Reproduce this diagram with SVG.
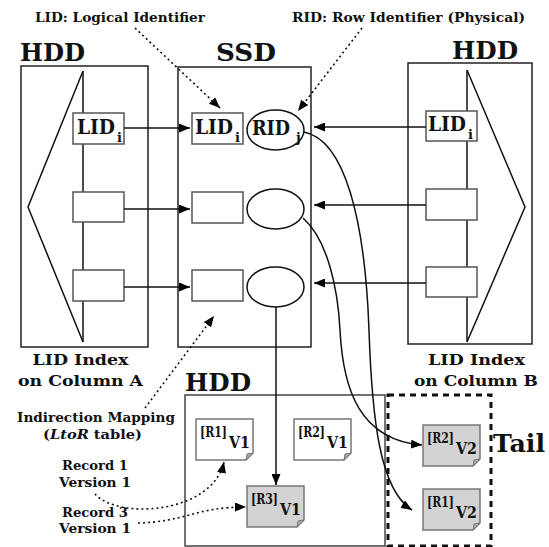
<svg xmlns="http://www.w3.org/2000/svg" width="549" height="547" viewBox="0 0 549 547">
<style>
text{font-family:"DejaVu Serif","Liberation Serif",serif;font-weight:bold;fill:#111}
.title{font-size:24px}
.lbl{font-size:13px}
.mid{font-size:15px}
.big{font-size:20px}
.sub{font-size:13px}
.dr{font-size:14px}
.dv{font-size:17px}
.cont{fill:#fff;stroke:#222;stroke-width:1.5}
.box{fill:#fff;stroke:#555;stroke-width:1.5}
.ln{fill:none;stroke:#111;stroke-width:1.5}
.dot{fill:none;stroke:#111;stroke-width:1.6;stroke-dasharray:2,3}
.doc{stroke:#777;stroke-width:1.5}
.w{fill:#fff}
.g{fill:#d3d3d3}
.fold{fill:#aaa;stroke:#777;stroke-width:1}
</style>
<defs>
<marker id="ah" viewBox="0 0 11 9" refX="11" refY="4.5" markerWidth="11" markerHeight="9" markerUnits="userSpaceOnUse" orient="auto"><path d="M0,0 L11,4.5 L0,9 z" fill="#000"/></marker>
</defs>
<rect width="549" height="547" fill="#fff"/>

<g id="hdd-left">
<text class="title" x="20" y="61" textLength="65" lengthAdjust="spacingAndGlyphs">HDD</text>
<rect class="cont" x="21" y="66" width="127" height="281"/>
<polyline class="ln" points="83,71 28,207 83,342"/>
<line class="ln" x1="83" y1="71" x2="83" y2="342"/>
<rect class="box" x="73" y="113" width="51" height="31"/>
<text class="big" x="77" y="134" textLength="38" lengthAdjust="spacingAndGlyphs">LID</text>
<text class="sub" x="117" y="142">i</text>
<rect class="box" x="73" y="192" width="51" height="30"/>
<rect class="box" x="73" y="270" width="51" height="31"/>
<text class="mid" x="80.5" y="365" text-anchor="middle" textLength="96" lengthAdjust="spacingAndGlyphs">LID Index</text>
<text class="mid" x="80.5" y="386" text-anchor="middle" textLength="125" lengthAdjust="spacingAndGlyphs">on Column A</text>
</g>

<g id="ssd">
<text class="title" x="216" y="61" textLength="60" lengthAdjust="spacingAndGlyphs">SSD</text>
<rect class="cont" x="178" y="67" width="133" height="280"/>
<rect class="box" x="192" y="113" width="51" height="31"/>
<text class="big" x="195" y="134" textLength="38" lengthAdjust="spacingAndGlyphs">LID</text>
<text class="sub" x="235" y="142">i</text>
<ellipse class="ln" cx="275.5" cy="130" rx="28.5" ry="20" fill="#fff"/>
<text class="big" x="252" y="135" textLength="38" lengthAdjust="spacingAndGlyphs">RID</text>
<text class="sub" x="296" y="142">j</text>
<rect class="box" x="192" y="192" width="51" height="31"/>
<ellipse class="ln" cx="275.5" cy="209" rx="28.5" ry="20"/>
<rect class="box" x="192" y="270" width="51" height="31"/>
<ellipse class="ln" cx="275.5" cy="287" rx="28.5" ry="20"/>
</g>

<g id="hdd-right">
<text class="title" x="452" y="59" textLength="66" lengthAdjust="spacingAndGlyphs">HDD</text>
<rect class="cont" x="408" y="63" width="124" height="281"/>
<polyline class="ln" points="467,70 525,207 467,342"/>
<line class="ln" x1="467" y1="70" x2="467" y2="342"/>
<rect class="box" x="426" y="111" width="51" height="30"/>
<text class="big" x="428" y="131" textLength="38" lengthAdjust="spacingAndGlyphs">LID</text>
<text class="sub" x="468" y="139">i</text>
<rect class="box" x="426" y="189" width="51" height="31"/>
<rect class="box" x="426" y="267" width="51" height="30"/>
<text class="mid" x="476.5" y="365" text-anchor="middle" textLength="97" lengthAdjust="spacingAndGlyphs">LID Index</text>
<text class="mid" x="476" y="386" text-anchor="middle" textLength="124" lengthAdjust="spacingAndGlyphs">on Column B</text>
</g>

<g id="hdd-bottom">
<text class="title" x="185" y="391" textLength="66" lengthAdjust="spacingAndGlyphs">HDD</text>
<rect x="185" y="395" width="200" height="151" fill="#fff" stroke="#444" stroke-width="1.5"/>
</g>

<g id="tail">
<rect x="388" y="395" width="103" height="151" fill="none" stroke="#111" stroke-width="3" stroke-dasharray="6,5"/>
<text x="493" y="452" font-size="25" textLength="52" lengthAdjust="spacingAndGlyphs">Tail</text>
</g>

<g id="doc-r1v1" transform="translate(196,419)">
<path class="doc w" d="M0,0 h57 v34 l-7,7 h-50 z"/>
<path class="fold" d="M50,41 L57,34 L51,35 z"/>
<text class="dr" x="4" y="18" textLength="27" lengthAdjust="spacingAndGlyphs">[R1]</text>
<text class="dv" x="33" y="29" textLength="21" lengthAdjust="spacingAndGlyphs">V1</text>
</g>
<g id="doc-r2v1" transform="translate(294,419)">
<path class="doc w" d="M0,0 h57 v34 l-7,7 h-50 z"/>
<path class="fold" d="M50,41 L57,34 L51,35 z"/>
<text class="dr" x="4" y="18" textLength="27" lengthAdjust="spacingAndGlyphs">[R2]</text>
<text class="dv" x="33" y="29" textLength="21" lengthAdjust="spacingAndGlyphs">V1</text>
</g>
<g id="doc-r3v1" transform="translate(247,486)">
<path class="doc g" d="M0,0 h57 v34 l-7,7 h-50 z"/>
<path class="fold" d="M50,41 L57,34 L51,35 z"/>
<text class="dr" x="4" y="18" textLength="27" lengthAdjust="spacingAndGlyphs">[R3]</text>
<text class="dv" x="33" y="29" textLength="21" lengthAdjust="spacingAndGlyphs">V1</text>
</g>
<g id="doc-r2v2" transform="translate(423,425)">
<path class="doc g" d="M0,0 h57 v34 l-7,7 h-50 z"/>
<path class="fold" d="M50,41 L57,34 L51,35 z"/>
<text class="dr" x="4" y="18" textLength="27" lengthAdjust="spacingAndGlyphs">[R2]</text>
<text class="dv" x="33" y="29" textLength="21" lengthAdjust="spacingAndGlyphs">V2</text>
</g>
<g id="doc-r1v2" transform="translate(423,489)">
<path class="doc g" d="M0,0 h57 v34 l-7,7 h-50 z"/>
<path class="fold" d="M50,41 L57,34 L51,35 z"/>
<text class="dr" x="4" y="18" textLength="27" lengthAdjust="spacingAndGlyphs">[R1]</text>
<text class="dv" x="33" y="29" textLength="21" lengthAdjust="spacingAndGlyphs">V2</text>
</g>

<g id="labels">
<text class="lbl" x="35" y="22" textLength="170" lengthAdjust="spacingAndGlyphs">LID: Logical Identifier</text>
<text class="lbl" x="292" y="22" textLength="233" lengthAdjust="spacingAndGlyphs">RID: Row Identifier (Physical)</text>
<text class="lbl" x="96" y="422" text-anchor="middle" textLength="158" lengthAdjust="spacingAndGlyphs">Indirection Mapping</text>
<text class="lbl" x="92.5" y="439" text-anchor="middle" textLength="99" lengthAdjust="spacingAndGlyphs">(<tspan font-style="italic">LtoR</tspan> table)</text>
<text class="lbl" x="95" y="470" text-anchor="middle" textLength="66" lengthAdjust="spacingAndGlyphs">Record 1</text>
<text class="lbl" x="95" y="487" text-anchor="middle" textLength="72" lengthAdjust="spacingAndGlyphs">Version 1</text>
<text class="lbl" x="95" y="517" text-anchor="middle" textLength="66" lengthAdjust="spacingAndGlyphs">Record 3</text>
<text class="lbl" x="95" y="533" text-anchor="middle" textLength="72" lengthAdjust="spacingAndGlyphs">Version 1</text>
</g>

<g id="connectors">
<line class="ln" x1="124" y1="128" x2="190" y2="128" marker-end="url(#ah)"/>
<line class="ln" x1="124" y1="209" x2="190" y2="209" marker-end="url(#ah)"/>
<line class="ln" x1="124" y1="287" x2="190" y2="287" marker-end="url(#ah)"/>
<line class="ln" x1="426" y1="127" x2="314" y2="127" marker-end="url(#ah)"/>
<line class="ln" x1="426" y1="205" x2="314" y2="205" marker-end="url(#ah)"/>
<line class="ln" x1="426" y1="283" x2="314" y2="283" marker-end="url(#ah)"/>
<line class="ln" x1="276" y1="307" x2="276" y2="485" marker-end="url(#ah)"/>
<path class="ln" d="M304,132 C345,140 365,220 369,330 C372,420 380,490 412,510" marker-end="url(#ah)"/>
<path class="ln" d="M303,218 C328,240 338,290 340,330 C343,390 360,440 422,445" marker-end="url(#ah)"/>
<line class="dot" x1="135" y1="28" x2="220" y2="108" marker-end="url(#ah)"/>
<line class="dot" x1="362" y1="28" x2="298" y2="111" marker-end="url(#ah)"/>
<line class="dot" x1="145" y1="408" x2="214" y2="316" marker-end="url(#ah)"/>
<path class="dot" d="M95,494 C118,520 212,514 224,462" marker-end="url(#ah)"/>
<path class="dot" d="M138,523 C185,522 195,507 246,507" marker-end="url(#ah)"/>
</g>
</svg>
